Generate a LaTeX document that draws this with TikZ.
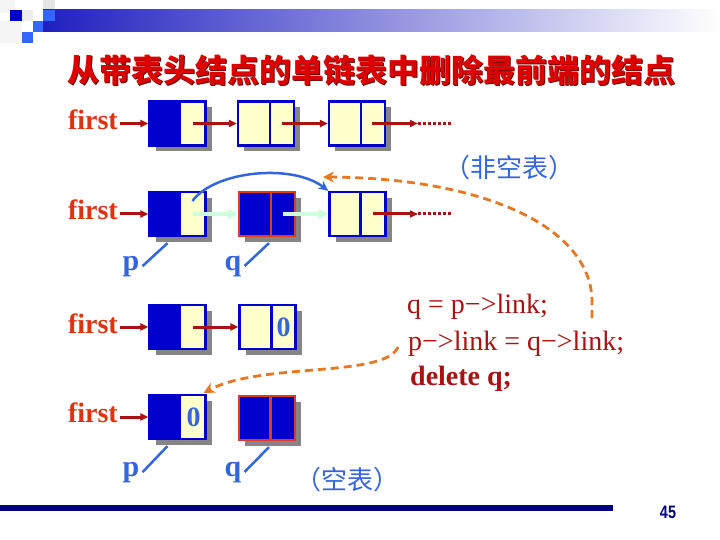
\documentclass[tikz,border=0pt]{standalone}
\usepackage{fontspec}
\setmainfont{Liberation Serif}
\newfontfamily\cjk{Noto Sans CJK SC}
\newfontfamily\numfont[FakeStretch=0.8]{Liberation Sans}
\usetikzlibrary{arrows.meta,calc,shadows}
\definecolor{nblue}{HTML}{0000CC}
\definecolor{lyellow}{HTML}{FFFFCC}
\definecolor{sgray}{HTML}{858585}
\definecolor{redb}{HTML}{E03A20}
\definecolor{firstc}{HTML}{DD3311}
\definecolor{arrred}{HTML}{AA1111}
\definecolor{ptrblue}{HTML}{3366DD}
\definecolor{orng}{HTML}{E87722}
\definecolor{greenarr}{HTML}{CCFFDD}
\definecolor{titlered}{HTML}{DD0000}
\definecolor{navy}{HTML}{000080}
\definecolor{barblue}{HTML}{2020C0}
\definecolor{sqblue}{HTML}{3366FF}
\tikzset{
  lnode/.style={draw=nblue, line width=2.2pt, minimum width=56pt, minimum height=44pt,
    inner sep=0pt, fill=lyellow,
    drop shadow={shadow xshift=6pt, shadow yshift=-6pt, fill=sgray, opacity=1}},
  halfdark/.style={path picture={\fill[nblue] (path picture bounding box.north west) rectangle
    ($(path picture bounding box.south west)!0.57!(path picture bounding box.south east)$);}},
  rednode/.style={lnode, draw=redb, fill=nblue},
  firstlbl/.style={font=\bfseries\fontsize{28}{28}\selectfont, text=firstc, inner sep=0pt, anchor=base east},
  ptrlbl/.style={font=\bfseries\fontsize{30}{30}\selectfont, text=ptrblue, inner sep=0pt, anchor=base},
  zerolbl/.style={font=\bfseries\fontsize{28}{28}\selectfont, text=ptrblue, inner sep=0pt},
  codelbl/.style={font=\fontsize{28}{28}\selectfont, text=arrred, inner sep=0pt, anchor=base west},
  redarr/.style={draw=arrred, line width=3pt, -{Triangle[length=8pt,width=7pt]}},
  dots/.style={draw=arrred, line width=3pt, dash pattern=on 2.5pt off 2.5pt},
  grnarr/.style={draw=greenarr, line width=4pt, -{Triangle[length=10pt,width=10pt]}},
  ptrline/.style={draw=ptrblue, line width=2.5pt},
  curvarr/.style={draw=ptrblue, line width=2.5pt, -{Stealth[length=10pt,width=9pt]}},
  orarr/.style={draw=orng, line width=2.8pt, dash pattern=on 8pt off 5pt, -{Stealth[length=11pt,width=11pt]}},
  cjklbl/.style={font=\cjk\fontsize{26}{26}\selectfont, text=ptrblue, inner sep=0pt},
}
\begin{document}
\begin{tikzpicture}[x=1pt,y=-1pt]
\useasboundingbox (0,0) rectangle (720,540);
% header decoration
\fill[gray!8] (0,0) rectangle (15,13);
\fill[gray!8] (0,21) rectangle (22,43);
\fill[gray!20] (43,0) rectangle (55,10);
\shade[left color=barblue, right color=white] (43,10) rectangle (720,32);
\fill[gray!15] (22,10) rectangle (33,21);
\fill[nblue] (10,10) rectangle (22,21);
\fill[sqblue] (43,10) rectangle (55,21);
\fill[sqblue] (33,21) rectangle (43,32);
\fill[sqblue] (22,32) rectangle (33,43);
% title
\node[font=\cjk\bfseries\fontsize{32}{32}\selectfont, text=black!60!red] at (372.5,71.5) {从带表头结点的单链表中删除最前端的结点};
\node[font=\cjk\bfseries\fontsize{32}{32}\selectfont, text=titlered] (title) at (371,70) {从带表头结点的单链表中删除最前端的结点};

% ---------- row 1 ----------
\node[firstlbl] (f1) at (118,130) {first};
\node[lnode, halfdark] (a1) at (177.5,123.5) {};
\node[lnode] (a2) at (266,123.5) {};
\node[lnode] (a3) at (357,123.5) {};
\foreach \n in {a2,a3}{\draw[nblue, line width=2.2pt] ($(\n.north west)!0.57!(\n.north east)$) -- ($(\n.south west)!0.57!(\n.south east)$);}
\coordinate (a3end) at (418,123.5);
\coordinate (a3dots) at (453,123.5);
\draw[redarr] ([xshift=2pt]f1.east |- a1.west) -- (a1.west);
\draw[redarr] ([xshift=15pt]a1.center) -- (a2.west);
\draw[redarr] ([xshift=16pt]a2.center) -- (a3.west);
\draw[redarr] ([xshift=15pt]a3.center) -- (a3end);
\draw[dots] (a3end) -- (a3dots);

\node[cjklbl] (nonempty) at (509,168) {（非空表）};

% ---------- row 2 ----------
\node[firstlbl] (f2) at (118,220) {first};
\node[lnode, halfdark] (b1) at (177.5,214) {};
\node[rednode] (b2) at (267,214) {};
\node[lnode] (b3) at (357.5,214) {};
\draw[redb, line width=2.2pt] ($(b2.north west)!0.57!(b2.north east)$) -- ($(b2.south west)!0.57!(b2.south east)$);
\draw[nblue, line width=2.2pt] ($(b3.north west)!0.55!(b3.north east)$) -- ($(b3.south west)!0.55!(b3.south east)$);
\coordinate (b3end) at (418,214);
\coordinate (b3dots) at (453,214);
\draw[redarr] ([xshift=2pt]f2.east |- b1.west) -- (b1.west);
\draw[grnarr] ([xshift=15pt]b1.center) -- (b2.west);
\draw[grnarr] ([xshift=16pt]b2.center) -- (b3.west);
\draw[redarr] ([xshift=15pt]b3.center) -- (b3end);
\draw[dots] (b3end) -- (b3dots);
\draw[curvarr] ([xshift=15pt,yshift=13pt]b1.center) .. controls (214,171) and (292,163) .. (b3.north west);
\node[ptrlbl] (p2) at (131,270) {p};
\node[ptrlbl] (q2) at (233,270) {q};
\draw[ptrline] ([xshift=3pt]p2.east) -- ([xshift=-10pt,yshift=-6pt]b1.south);
\draw[ptrline] ([xshift=3pt]q2.east) -- ([xshift=2pt,yshift=-6pt]b2.south);

% orange arrow 1
\coordinate (o1s) at (592,318);
\coordinate (o1e) at (323,177);
\draw[orarr] (o1s) -- (592,300) .. controls (590,225) and (480,178) .. (o1e);

% ---------- row 3 ----------
\node[firstlbl] (f3) at (118,333) {first};
\node[lnode, halfdark] (c1) at (177.5,327) {};
\node[lnode] (c2) at (267.5,327) {};
\draw[nblue, line width=2.2pt] ($(c2.north west)!0.57!(c2.north east)$) -- ($(c2.south west)!0.57!(c2.south east)$);
\node[zerolbl] (z3) at ([xshift=16pt]c2.center) {0};
\draw[redarr] ([xshift=2pt]f3.east |- c1.west) -- (c1.west);
\draw[redarr] ([xshift=15pt]c1.center) -- (c2.west);

% code
\node[codelbl] (code1) at (407,313) {q = p−>link;};
\node[codelbl] (code2) at (408,350) {p−>link = q−>link;};
\node[codelbl, font=\bfseries\fontsize{28}{28}\selectfont] (code3) at (410,385) {delete q;};

% ---------- row 4 ----------
\node[firstlbl] (f4) at (118,422) {first};
\node[lnode, halfdark] (d1) at (177.5,417) {};
\node[rednode] (d2) at (267,418) {};
\draw[redb, line width=2.2pt] ($(d2.north west)!0.56!(d2.north east)$) -- ($(d2.south west)!0.56!(d2.south east)$);
\node[zerolbl] (z4) at ([xshift=16pt]d1.center) {0};
\draw[redarr] ([xshift=2pt]f4.east |- d1.west) -- (d1.west);
\node[ptrlbl] (p4) at (131,476) {p};
\node[ptrlbl] (q4) at (233,476) {q};
\draw[ptrline] ([xshift=3pt]p4.east) -- ([xshift=-10pt,yshift=-6pt]d1.south);
\draw[ptrline] ([xshift=3pt]q4.east) -- ([xshift=2pt,yshift=-6pt]d2.south);
\node[cjklbl] (empty) at (347,480) {（空表）};

% orange arrow 2
\coordinate (o2s) at (398,347);
\draw[orarr] (o2s) .. controls (385,378) and (262,362) .. ([xshift=-3pt,yshift=1pt]d1.north east);

% footer
\fill[navy] (0,505) rectangle (613,511);
\node[font=\numfont\bfseries\fontsize{18}{18}\selectfont, text=navy, inner sep=0pt] (pg) at (668,512) {45};
\end{tikzpicture}
\end{document}
